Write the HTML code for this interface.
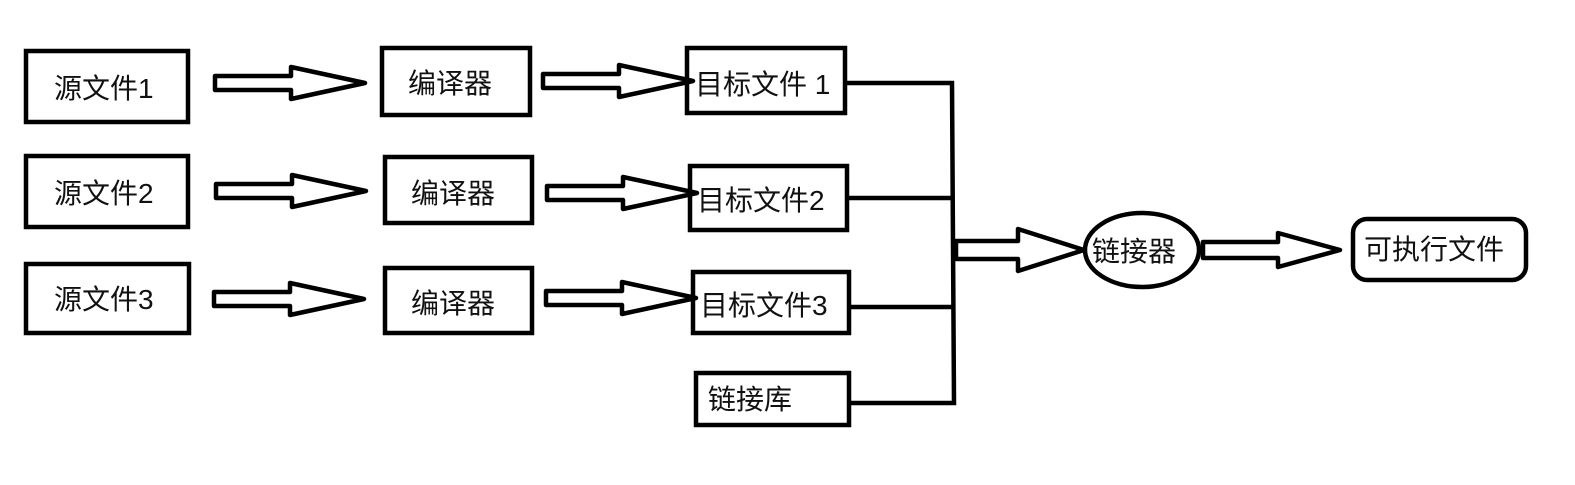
<!DOCTYPE html>
<html><head><meta charset="utf-8"><style>
html,body{margin:0;padding:0;background:#fff;width:1575px;height:485px;overflow:hidden}
text{font-family:"Liberation Sans","Noto Sans CJK SC",sans-serif;font-size:28px;fill:#111}
</style></head><body>
<svg width="1575" height="485" xmlns="http://www.w3.org/2000/svg">
<defs>
<g id="arr"><polygon points="0,-7 76,-7 76,-16 150,0 76,16 76,7 0,7" fill="#fff" stroke="#000" stroke-width="4.5" stroke-linejoin="round"/></g>
</defs>
<g fill="none" stroke="#000" stroke-width="4.5">
<rect x="26" y="51" width="162" height="71"/>
<rect x="26" y="156" width="162" height="71"/>
<rect x="26" y="264" width="163" height="69"/>
<rect x="382" y="48" width="148" height="67"/>
<rect x="385" y="157" width="147" height="66"/>
<rect x="385" y="268" width="147" height="65"/>
<rect x="687" y="48" width="158" height="65"/>
<rect x="690" y="166" width="157" height="64"/>
<rect x="693" y="272" width="156" height="61"/>
<rect x="696" y="373" width="153" height="52"/>
<ellipse cx="1142" cy="250" rx="57" ry="37"/>
<rect x="1353" y="219" width="173" height="61" rx="14"/>
<polyline points="845,83 952,83 954,403 849,403"/>
<line x1="847" y1="198" x2="952" y2="198"/>
<line x1="849" y1="307" x2="952" y2="307"/>
</g>
<use href="#arr" transform="translate(215,83)"/>
<use href="#arr" transform="translate(216,191)"/>
<use href="#arr" transform="translate(214,299)"/>
<use href="#arr" transform="translate(543,81)"/>
<use href="#arr" transform="translate(547,193)"/>
<use href="#arr" transform="translate(546,298)"/>
<polygon points="956,241 1018,241 1018,229 1084,250 1018,271 1018,259 956,259" fill="#fff" stroke="#000" stroke-width="4.5" stroke-linejoin="round"/>
<polygon points="1203,242 1278,242 1278,233 1340,250 1278,267 1278,258 1203,258" fill="#fff" stroke="#000" stroke-width="4.5" stroke-linejoin="round"/>
<text x="54" y="98">源文件1</text>
<text x="54" y="203">源文件2</text>
<text x="54" y="309">源文件3</text>
<text x="408" y="93">编译器</text>
<text x="411" y="203">编译器</text>
<text x="411" y="313">编译器</text>
<text x="695" y="94">目标文件 1</text>
<text x="697" y="210">目标文件2</text>
<text x="700" y="315">目标文件3</text>
<text x="708" y="409">链接库</text>
<text x="1092" y="261">链接器</text>
<text x="1364" y="259">可执行文件</text>
</svg>
</body></html>
